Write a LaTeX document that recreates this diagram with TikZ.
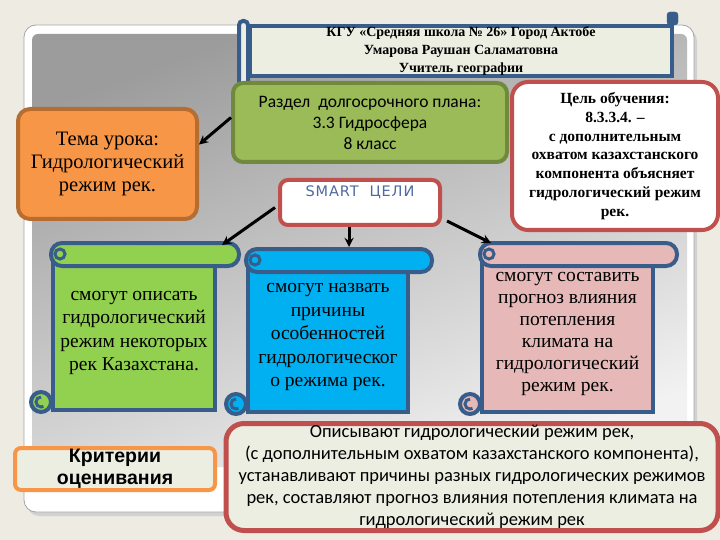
\documentclass[tikz,border=0pt]{standalone}
\usepackage{fontspec}
\setmainfont{Liberation Serif}
\newfontfamily\calibrifont{Carlito}
\newfontfamily\arialfont{Liberation Sans}
\newfontfamily\smartfont[LetterSpace=6]{DejaVu Sans}

\definecolor{pagebg}{RGB}{237,235,226}
\definecolor{lightfill}{RGB}{236,238,226}
\definecolor{lineblue}{RGB}{56,93,138}
\definecolor{greenfill}{RGB}{155,187,89}
\definecolor{greenline}{RGB}{113,137,63}
\definecolor{orangefill}{RGB}{247,150,70}
\definecolor{orangeline}{RGB}{182,109,49}
\definecolor{redline}{RGB}{192,80,77}
\definecolor{scrollgreen}{RGB}{146,208,80}
\definecolor{scrollblue}{RGB}{0,176,240}
\definecolor{scrollpink}{RGB}{230,185,184}
\definecolor{smarttext}{RGB}{79,106,160}

\tikzset{
    box/.style={rounded corners=10pt, line width=4pt, align=center, inner sep=0pt},
    scrollline/.style={draw=lineblue, line width=4pt},
    scroll/.style={scrollline, align=center, inner sep=0pt, font=\fontsize{19.5}{23.5}\selectfont},
    arr/.style={->, >=stealth, line width=3pt}
}

\begin{document}
\begin{tikzpicture}[x=1pt,y=1pt]
    \useasboundingbox[fill=pagebg] (0,0) rectangle (720,-540);
    % panel
    \fill[black!18, rounded corners=12pt] (27,-29) rectangle (697,-516);
    \filldraw[fill=white, draw=gray!70, line width=0.8pt, rounded corners=12pt] (24,-25) rectangle (694,-512);
    \shade[top color=gray!78, bottom color=gray!10, shading angle=20, rounded corners=6pt] (32,-34) rectangle (687,-467);

    % title banner
    \node[draw=lineblue, fill=lightfill, line width=4pt, minimum width=422, minimum height=50, inner sep=0pt,
          align=center, font=\bfseries\fontsize{14}{18}\selectfont] (title) at (461,-51)
          {КГУ «Средняя школа № 26» Город Актобе\\Умарова Раушан Саламатовна\\Учитель географии};
    \filldraw[scrollline, fill=lightfill, rounded corners=4pt] ([xshift=-9,yshift=3]title.north west) rectangle ([yshift=-7]title.south west);
    \filldraw[draw=lineblue, fill=lineblue, rounded corners=3pt] ([xshift=-7,yshift=12]title.north east) rectangle ([xshift=4,yshift=-1]title.north east);

    % boxes
    \node[box, draw=greenline, fill=greenfill, minimum width=274, minimum height=79,
          font=\calibrifont\fontsize{17.5}{21}\selectfont] (plan) at (370,-122.5)
          {Раздел\ \ долгосрочного плана:\\3.3 Гидросфера\\8 класс};
    \node[box, rounded corners=16pt, draw=redline, fill=white, minimum width=206, minimum height=148,
          font=\bfseries\fontsize{15.5}{18.8}\selectfont] (goal) at (615,-156)
          {Цель обучения:\\8.3.3.4. –\\с дополнительным\\охватом казахстанского\\компонента объясняет\\гидрологический режим\\рек.};
    \node[box, rounded corners=12pt, draw=orangeline, fill=orangefill, minimum width=179, minimum height=110,
          font=\fontsize{20.5}{23}\selectfont] (topic) at (107.5,-164)
          {Тема урока:\\Гидрологический\\режим рек.};
    \node[box, rounded corners=8pt, draw=redline, fill=white, minimum width=160, minimum height=45,
          text=smarttext, font=\smartfont\fontsize{14.5}{22}\selectfont] (smart) at (360,-202.5)
          {SMART\ \ ЦЕЛИ\\\mbox{}};

    % scrolls
    \node[scroll, fill=scrollgreen, minimum width=162, minimum height=154] (s1) at (134,-333)
          {смогут описать\\гидрологический\\режим некоторых\\рек Казахстана.};
    \node[scroll, fill=scrollblue, minimum width=160, minimum height=150] (s2) at (328,-337)
          {смогут назвать\\причины\\особенностей\\гидрологическог\\о режима рек.};
    \node[scroll, fill=scrollpink, minimum width=171, minimum height=156,
          font=\fontsize{19.5}{22}\selectfont] (s3) at (567.5,-334)
          {смогут составить\\прогноз влияния\\потепления\\климата на\\гидрологический\\режим рек.};
    \foreach \nm/\col in {s1/scrollgreen, s2/scrollblue, s3/scrollpink}
    {
        \filldraw[scrollline, fill=\col, rounded corners=11pt] ([yshift=11]\nm.north west) rectangle ([xshift=22,yshift=-12]\nm.north east);
        \draw[scrollline, line width=3pt] ([xshift=9]\nm.north west) circle (5);
        \filldraw[scrollline, fill=\col] ([xshift=-10,yshift=10]\nm.south west) circle (10);
        \draw[scrollline, line width=3pt] ([xshift=-10,yshift=15]\nm.south west) arc (90:300:5);
    }

    % criteria
    \node[box, rounded corners=6pt, draw=orangefill, fill=lightfill, minimum width=200, minimum height=42,
          font=\arialfont\bfseries\fontsize{19.5}{22}\selectfont] (crit) at (115,-469)
          {Критерии\\оценивания};
    \node[box, rounded corners=18pt, line width=5pt, draw=redline, fill=lightfill, minimum width=492, minimum height=107,
          font=\calibrifont\fontsize{18.5}{22}\selectfont] (desc) at (472,-477)
          {Описывают гидрологический режим рек,\\(с дополнительным охватом казахстанского компонента),\\устанавливают причины разных гидрологических режимов\\рек, составляют прогноз влияния потепления климата на\\гидрологический режим рек};

    % arrows
    \coordinate (midtip) at ([xshift=-11,yshift=-20]smart.south);
    \draw[arr] ([yshift=5]plan.west) -- (topic.12);
    \draw[arr] ([xshift=-3,yshift=-5]smart.west) -- ([xshift=5,yshift=9]s1.north east);
    \draw[arr] ([xshift=-11]smart.south) -- (midtip);
    \draw[arr] ([xshift=5,yshift=6]smart.south east) -- ([xshift=11,yshift=11]s3.north west);
\end{tikzpicture}
\end{document}
